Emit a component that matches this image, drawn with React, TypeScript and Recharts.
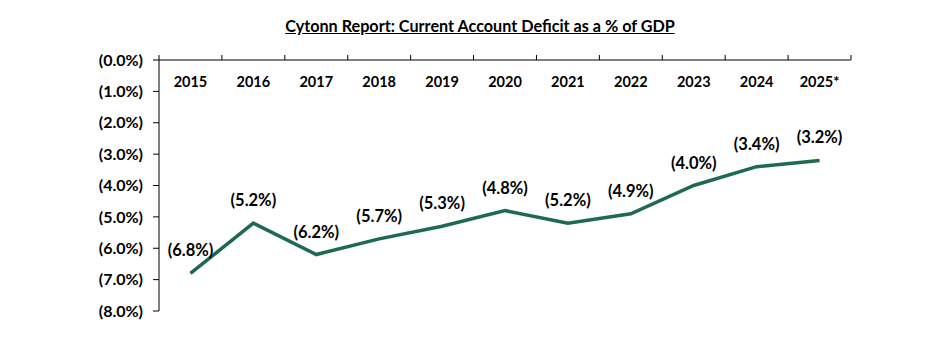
import React from "react";
import { LineChart, Line, XAxis, YAxis, LabelList } from "recharts";

const years = ["2015", "2016", "2017", "2018", "2019", "2020", "2021", "2022", "2023", "2024", "2025*"];
const deficit = [-6.8, -5.2, -6.2, -5.7, -5.3, -4.8, -5.2, -4.9, -4.0, -3.4, -3.2];
const yTicks = [0, -1, -2, -3, -4, -5, -6, -7, -8];
const boundaryTicks = years.map((_, i) => i - 0.5).concat([years.length - 0.5]);

const data = years.map((year, i) => ({ pos: i, year, value: deficit[i] }));

const font = "Lato, 'Open Sans', sans-serif";
const fmt = (v: number) => `(${Math.abs(v).toFixed(1)}%)`;

// plot area is 692px wide with 11 slots; the year label sits half a slot right of its left boundary tick
const halfSlot = 692 / years.length / 2;

const YearTick = (props: any) => {
  const { x, y, payload } = props;
  const label = years[payload.value + 0.5];
  if (!label) return <g />;
  return (
    <text
      x={x + halfSlot}
      y={y + 26.5}
      textAnchor="middle"
      fill="#000"
      fontSize={14.5}
      fontWeight={700}
      fontFamily={font}
    >
      {label}
    </text>
  );
};

export default function App() {
  return (
    <div style={{ position: "relative", width: 920, height: 324, fontFamily: font }}>
      <div
        style={{
          position: "absolute",
          top: 8,
          left: 0,
          width: 944,
          textAlign: "center",
          fontWeight: 700,
          fontSize: 16.2,
          textDecoration: "underline",
          color: "#000",
        }}
      >
        Cytonn Report: Current Account Deficit as a % of GDP
      </div>
      <LineChart
        width={920}
        height={320}
        data={data}
        margin={{ top: 42, right: 77, bottom: 17, left: 0 }}
      >
        {/* top axis: ticks on slot boundaries, years drawn just under the line */}
        <XAxis
          dataKey="pos"
          type="number"
          orientation="top"
          domain={[-0.5, years.length - 0.5]}
          ticks={boundaryTicks}
          interval={0}
          height={10}
          tickSize={5}
          tickMargin={-5}
          axisLine={{ stroke: "#000" }}
          tickLine={{ stroke: "#000" }}
          tick={<YearTick />}
        />
        <YAxis
          type="number"
          domain={[-8, 0]}
          ticks={yTicks}
          interval={0}
          width={151}
          tickSize={6}
          tickMargin={10}
          tickFormatter={fmt}
          axisLine={{ stroke: "#000" }}
          tickLine={{ stroke: "#000" }}
          tick={{ fill: "#000", fontSize: 16, fontWeight: 700, fontFamily: font }}
        />
        <Line
          dataKey="value"
          stroke="#1d6a50"
          strokeWidth={3.5}
          dot={false}
          isAnimationActive={false}
        >
          <LabelList
            dataKey="value"
            position="top"
            offset={17}
            formatter={(v: number) => fmt(v)}
            style={{ fill: "#000", fontSize: 16.5, fontWeight: 700, fontFamily: font }}
          />
        </Line>
      </LineChart>
    </div>
  );
}
